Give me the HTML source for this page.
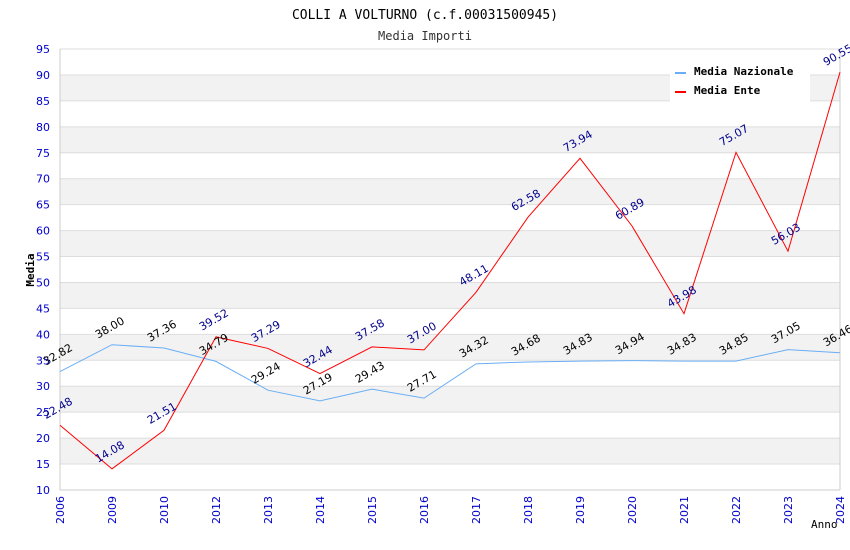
<!DOCTYPE html>
<html><head><meta charset="utf-8"><style>
body{margin:0;background:#fff}
svg{display:block;font-family:"DejaVu Sans","Liberation Sans",sans-serif}
</style></head><body>
<svg id="chart" width="850" height="550">
<text x="425" y="19" text-anchor="middle" font-family="DejaVu Sans Mono, Liberation Mono, monospace" font-size="13" fill="#000">COLLI A VOLTURNO (c.f.00031500945)</text>
<text x="425" y="40" text-anchor="middle" font-family="DejaVu Sans Mono, Liberation Mono, monospace" font-size="12" fill="#333">Media Importi</text>
<g id="bands"></g><g id="grid"></g><g id="axes"></g><g id="lines"></g><g id="labels"></g>
<text x="34" y="270" transform="rotate(-90 34 270)" text-anchor="middle" font-family="DejaVu Sans Mono, monospace" font-size="11" font-weight="bold">Media</text>
<text x="811" y="528" font-family="DejaVu Sans Mono, monospace" font-size="11">Anno</text>
<g>
<rect x="670" y="60" width="140" height="42" fill="#fff"/>
<rect x="675" y="72" width="11" height="2" fill="#6aaef5"/>
<text x="694" y="75" font-family="DejaVu Sans Mono, monospace" font-size="11" font-weight="bold">Media Nazionale</text>
<rect x="675" y="91" width="11" height="2" fill="#f00"/>
<text x="694" y="94" font-family="DejaVu Sans Mono, monospace" font-size="11" font-weight="bold">Media Ente</text>
</g>
</svg>
<script>
const years=["2006","2009","2010","2012","2013","2014","2015","2016","2017","2018","2019","2020","2021","2022","2023","2024"];
const nazionale=[32.82,38.00,37.36,34.79,29.24,27.19,29.43,27.71,34.32,34.68,34.83,34.94,34.83,34.85,37.05,36.46];
const ente=[22.48,14.08,21.51,39.52,37.29,32.44,37.58,37.00,48.11,62.58,73.94,60.89,43.98,75.07,56.03,90.55];
const yTicks=[10,15,20,25,30,35,40,45,50,55,60,65,70,75,80,85,90,95];
const NS="http://www.w3.org/2000/svg";
const L=60,R=840,T=49,B=490,ymin=10,ymax=95;
const x=i=>L+i*(R-L)/(years.length-1);
const y=v=>B-(v-ymin)*(B-T)/(ymax-ymin);
function mk(tag,attrs,parent){const e=document.createElementNS(NS,tag);for(const k in attrs)e.setAttribute(k,attrs[k]);document.getElementById(parent).appendChild(e);return e;}
for(let i=0;i<yTicks.length-1;i++){
  if(i%2===1){const r=mk('rect',{x:L,y:y(yTicks[i+1]),width:R-L,height:y(yTicks[i])-y(yTicks[i+1]),fill:'#f2f2f2'},'bands');
  
  }
}
yTicks.forEach(v=>{
  const g=mk('line',{x1:L,x2:R,y1:y(v),y2:y(v),stroke:'#ddd'},'grid');
  
  
  const t=mk('text',{x:50,y:y(v)+4,'text-anchor':'end','font-size':11,fill:'#00c'},'axes');
  
  
  t.textContent=v;
});
mk('line',{x1:L,x2:L,y1:T,y2:B,stroke:'#ccc'},'axes');
mk('line',{x1:R,x2:R,y1:T,y2:B,stroke:'#ccc'},'axes');
mk('line',{x1:L,x2:R,y1:B,y2:B,stroke:'#ccc'},'axes');
years.forEach((yr,i)=>{
  const t=mk('text',{x:x(i)+4,y:496,'text-anchor':'end','font-size':11,fill:'#00c',transform:`rotate(-90 ${x(i)+4} 496)`},'axes');
  
  
  t.textContent=yr;
});
function series(vals,color,name,lc){
  const p=mk('polyline',{points:vals.map((v,i)=>x(i)+','+y(v)).join(' '),fill:'none',stroke:color,'stroke-width':1},'lines');
  
  
  vals.forEach((v,i)=>{
    const lx=x(i)-14,ly=y(v)-6;
    const t=mk('text',{x:lx,y:ly,'font-size':11,fill:lc,transform:`rotate(-30 ${lx} ${ly})`},'labels');
    
    
    t.textContent=v.toFixed(2);
  });
}
series(nazionale,'#6aaef5','line-media-nazionale','#000');
series(ente,'#f00','line-media-ente','#00008b');
</script>
</body></html>
